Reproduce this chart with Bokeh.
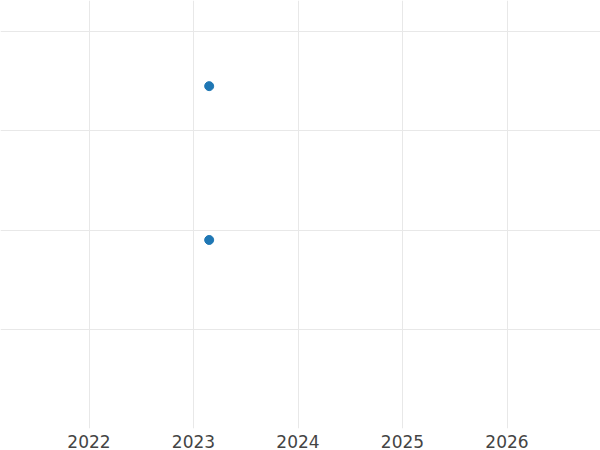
from bokeh.plotting import figure
from bokeh.models import FixedTicker, Range1d
from bokeh.embed import file_html
from bokeh.resources import INLINE

# data
years = [2023.15, 2023.15]
values = [3.45, 1.90]
x_ticks = [2022, 2023, 2024, 2025, 2026]
y_ticks = [1, 2, 3, 4]

p = figure(output_backend="svg", toolbar_location=None,
           width=600, height=450,
           x_range=Range1d(2021.1531, 2026.8947),
           y_range=Range1d(0.0, 4.3131),
           min_border_left=0, min_border_right=0, min_border_top=0, min_border_bottom=0)

p.scatter(years, values, size=9, color="#1f77b4")

p.outline_line_color = None
p.background_fill_color = "white"
p.border_fill_color = "white"

p.yaxis.visible = False
p.xaxis.ticker = FixedTicker(ticks=x_ticks)
p.yaxis.ticker = FixedTicker(ticks=y_ticks)
p.xaxis.axis_line_color = None
p.xaxis.major_tick_line_color = None
p.xaxis.minor_tick_line_color = None
p.xaxis.major_tick_out = 0
p.xaxis.major_tick_in = 0
p.xaxis.major_label_standoff = 6
p.xaxis.major_label_text_font = "DejaVu Sans"
p.xaxis.major_label_text_font_size = "17px"
p.xaxis.major_label_text_color = "#444444"

p.xgrid.grid_line_color = "#e8e8e8"
p.ygrid.grid_line_color = "#e8e8e8"
p.xgrid.grid_line_width = 1
p.ygrid.grid_line_width = 1

open("out.html", "w").write(file_html(p, INLINE))
